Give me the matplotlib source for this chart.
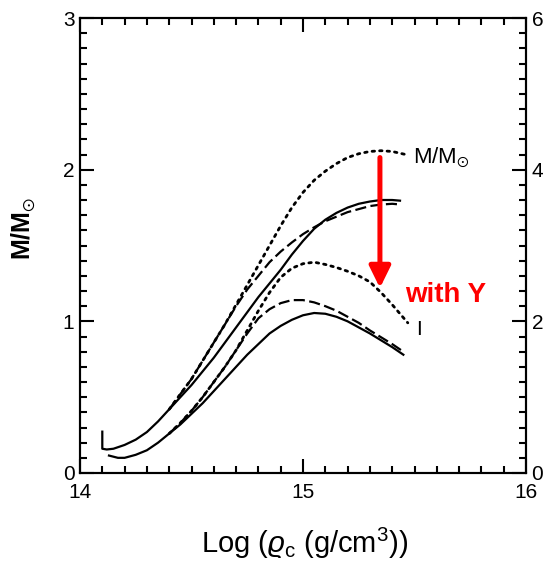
import matplotlib
matplotlib.use("Agg")
import matplotlib.pyplot as plt
from matplotlib.ticker import MultipleLocator

plt.rcParams['font.family'] = ['Liberation Sans', 'DejaVu Sans']
plt.rcParams['mathtext.fontset'] = 'custom'
plt.rcParams['mathtext.rm'] = 'Liberation Sans'
plt.rcParams['mathtext.it'] = 'Liberation Sans:italic'
plt.rcParams['mathtext.bf'] = 'Liberation Sans:bold'
plt.rcParams['mathtext.sf'] = 'Liberation Sans'
plt.rcParams['mathtext.fallback'] = 'stixsans'

# ---------------- data ----------------
# upper group (mass M/Msun)
upper_solid_x = [14.10, 14.10, 14.12, 14.15, 14.20, 14.25, 14.30, 14.35, 14.40, 14.45, 14.50, 14.55,
                 14.60, 14.65, 14.70, 14.75, 14.80, 14.85, 14.90, 14.95, 15.00, 15.05, 15.10,
                 15.15, 15.20, 15.25, 15.30, 15.35, 15.40, 15.44]
upper_solid_y = [0.28, 0.16, 0.155, 0.16, 0.185, 0.22, 0.27, 0.34, 0.42, 0.50, 0.58, 0.67,
                 0.76, 0.86, 0.96, 1.06, 1.16, 1.25, 1.34, 1.44, 1.53, 1.61, 1.67,
                 1.715, 1.75, 1.775, 1.79, 1.80, 1.80, 1.795]

upper_dashed_x = [14.40, 14.45, 14.50, 14.55, 14.60, 14.65, 14.70, 14.75, 14.80, 14.85, 14.90,
                  14.95, 15.00, 15.05, 15.10, 15.15, 15.20, 15.25, 15.30, 15.35, 15.40, 15.44]
upper_dashed_y = [0.42, 0.52, 0.62, 0.74, 0.86, 0.98, 1.10, 1.21, 1.30, 1.39, 1.46,
                  1.52, 1.575, 1.62, 1.66, 1.69, 1.72, 1.74, 1.76, 1.77, 1.775, 1.77]

upper_dotted_x = [14.40, 14.45, 14.50, 14.55, 14.60, 14.65, 14.70, 14.75, 14.80, 14.85, 14.90,
                  14.95, 15.00, 15.05, 15.10, 15.15, 15.20, 15.25, 15.30, 15.35, 15.40, 15.46]
upper_dotted_y = [0.42, 0.52, 0.62, 0.74, 0.86, 0.98, 1.11, 1.24, 1.37, 1.50, 1.63,
                  1.75, 1.85, 1.93, 1.99, 2.04, 2.08, 2.105, 2.12, 2.125, 2.12, 2.10]

# lower group (moment of inertia I)
lower_solid_x = [14.13, 14.17, 14.20, 14.25, 14.30, 14.35, 14.40, 14.45, 14.50, 14.55, 14.60,
                 14.65, 14.70, 14.75, 14.80, 14.85, 14.90, 14.95, 15.00, 15.05, 15.10, 15.15,
                 15.20, 15.25, 15.30, 15.35, 15.40, 15.45]
lower_solid_y = [0.115, 0.10, 0.10, 0.12, 0.15, 0.20, 0.26, 0.32, 0.39, 0.46, 0.54,
                 0.62, 0.70, 0.78, 0.85, 0.92, 0.97, 1.01, 1.04, 1.055, 1.05, 1.03,
                 1.00, 0.96, 0.92, 0.875, 0.83, 0.78]

lower_dashed_x = [14.40, 14.45, 14.50, 14.55, 14.60, 14.65, 14.70, 14.75, 14.80, 14.85, 14.90,
                  14.95, 15.00, 15.05, 15.10, 15.15, 15.20, 15.25, 15.30, 15.35, 15.40, 15.45]
lower_dashed_y = [0.26, 0.33, 0.41, 0.50, 0.60, 0.70, 0.81, 0.92, 1.02, 1.08, 1.12,
                  1.14, 1.14, 1.125, 1.10, 1.07, 1.03, 0.99, 0.94, 0.895, 0.85, 0.80]

lower_dotted_x = [14.40, 14.45, 14.50, 14.55, 14.60, 14.65, 14.70, 14.75, 14.80, 14.85, 14.90,
                  14.95, 15.00, 15.05, 15.10, 15.15, 15.20, 15.25, 15.30, 15.35, 15.40, 15.47]
lower_dotted_y = [0.26, 0.33, 0.41, 0.50, 0.60, 0.70, 0.81, 0.94, 1.07, 1.19, 1.29,
                  1.35, 1.38, 1.39, 1.375, 1.355, 1.33, 1.30, 1.26, 1.19, 1.11, 0.99]

x_ticks = [14, 15, 16]
x_tick_labels = ['14', '15', '16']
y_ticks = [0, 1, 2, 3]
y_tick_labels = ['0', '1', '2', '3']
y2_ticks = [0, 2, 4, 6]
y2_tick_labels = ['0', '2', '4', '6']

arrow_x = 15.345
arrow_top = 2.08
arrow_tip = 1.22

# ---------------- figure ----------------
fig = plt.figure(figsize=(5.47, 5.61), dpi=100)
L, R = 80 / 547, 526 / 547
B, T = 1 - 473 / 561, 1 - 18 / 561
ax = fig.add_axes([L, B, R - L, T - B])

lw = 1.6
ax.plot(upper_solid_x, upper_solid_y, color='black', lw=lw, solid_capstyle='butt')
ax.plot(upper_dashed_x, upper_dashed_y, color='black', lw=lw, linestyle=(0, (5.0, 2.0)))
ax.plot(upper_dotted_x, upper_dotted_y, color='black', lw=2.0, linestyle=(0, (0.9, 1.8)),
        dash_capstyle='round')
ax.plot(lower_solid_x, lower_solid_y, color='black', lw=lw)
ax.plot(lower_dashed_x, lower_dashed_y, color='black', lw=lw, linestyle=(0, (5.0, 2.0)))
ax.plot(lower_dotted_x, lower_dotted_y, color='black', lw=2.0, linestyle=(0, (0.9, 1.8)),
        dash_capstyle='round')

ax.set_xlim(14, 16)
ax.set_ylim(0, 3)
ax.set_xticks(x_ticks)
ax.set_xticklabels(x_tick_labels)
ax.set_yticks(y_ticks)
ax.set_yticklabels(y_tick_labels)
ax.xaxis.set_minor_locator(MultipleLocator(0.1))
ax.yaxis.set_minor_locator(MultipleLocator(0.1))
ax.tick_params(which='both', direction='in', width=1.5, colors='black', labelsize=15,
               top=True, right=False)
ax.tick_params(which='major', length=10)
ax.tick_params(which='minor', length=5)
ax.tick_params(axis='y', pad=4)
ax.tick_params(axis='x', pad=7)
for s in ax.spines.values():
    s.set_linewidth(1.5)

ax2 = ax.twinx()
ax2.set_ylim(0, 6)
ax2.set_yticks(y2_ticks)
ax2.set_yticklabels(y2_tick_labels)
ax2.yaxis.set_minor_locator(MultipleLocator(0.2))
ax2.tick_params(which='both', direction='in', width=1.5, labelsize=15, pad=4)
ax2.tick_params(which='major', length=10)
ax2.tick_params(which='minor', length=5)
for s in ax2.spines.values():
    s.set_linewidth(1.5)

# annotations
ax.text(15.493, 2.044, r'M/M$_{\odot}$', fontsize=16, ha='left', va='baseline')
ax.text(15.507, 0.91, 'I', fontsize=15, ha='left', va='baseline')
ax.text(15.457, 1.127, 'with Y', fontsize=20, fontweight='bold', color='#ff0000',
        ha='left', va='baseline')
ax.annotate('', xy=(arrow_x, arrow_tip), xytext=(arrow_x, arrow_top),
            arrowprops=dict(arrowstyle='-|>,head_width=0.32,head_length=0.65',
                            color='#ff0000', lw=3.6, shrinkA=0, shrinkB=0,
                            mutation_scale=20))

fig.text(24 / 547, 1 - 228 / 561, r'$\mathbf{M/M}_{\odot}$', rotation=90, fontsize=18,
         ha='center', va='center')
fig.text(305 / 547, 1 - 543 / 561, r'Log ($\varrho_{\mathrm{c}}$ (g/cm$^{3}$))', fontsize=21,
         ha='center', va='center')

fig.savefig('out.png', dpi=100)
